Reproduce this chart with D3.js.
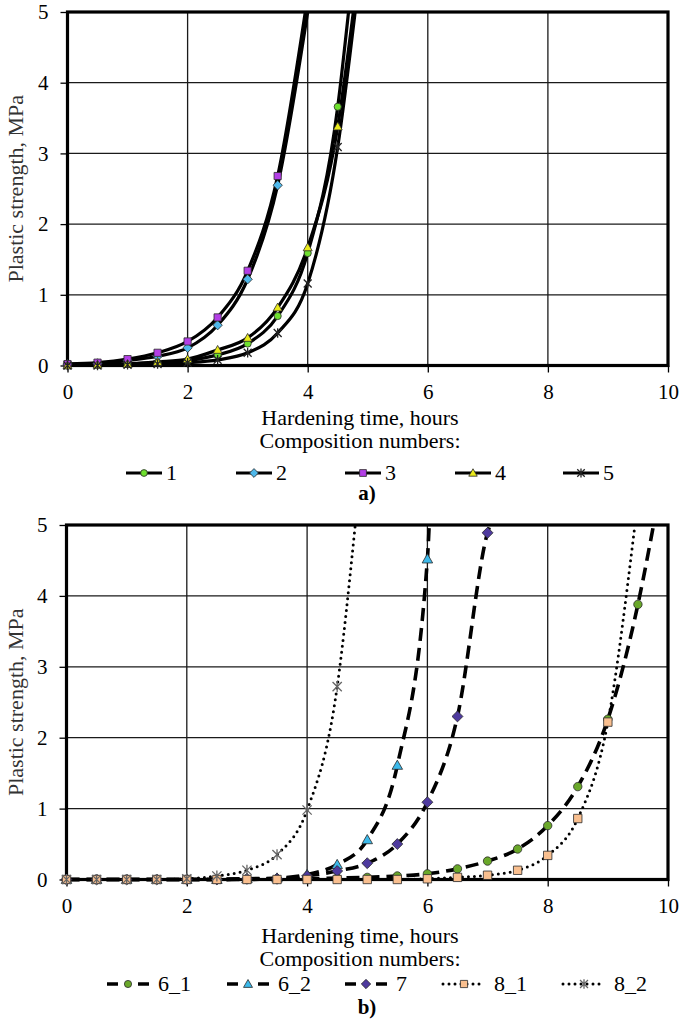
<!DOCTYPE html>
<html>
<head>
<meta charset="utf-8">
<script src="https://cdn.jsdelivr.net/npm/d3@7"></script>
<style>
  body { margin: 0; background: #fff; }
</style>
</head>
<body>
<svg id="fig" width="685" height="1021" font-family="Liberation Serif"></svg>
<script>
// ---- panel a) data ----
const hoursA = [0, 0.5, 1, 1.5, 2, 2.5, 3, 3.5, 4, 4.5];
const namesA = ["1", "2", "3", "4", "5"];
const strengthA1 = [0.00, 0.01, 0.02, 0.04, 0.07, 0.15, 0.31, 0.70, 1.59, 3.66];
const strengthA2 = [0.02, 0.03, 0.07, 0.13, 0.25, 0.57, 1.22, 2.55];
const strengthA3 = [0.02, 0.04, 0.09, 0.18, 0.34, 0.68, 1.34, 2.68];
const strengthA4 = [0.00, 0.01, 0.02, 0.05, 0.09, 0.22, 0.39, 0.82, 1.67, 3.38];
const strengthA5 = [0.00, 0.00, 0.01, 0.02, 0.04, 0.08, 0.18, 0.46, 1.16, 3.09];
// hour at which each curve leaves the top of the plot (5 MPa)
const exitA = [4.68, 4.0, 3.96, 4.76, 4.79];

// ---- panel b) data ----
const hoursB = [0, 0.5, 1, 1.5, 2, 2.5, 3, 3.5, 4, 4.5, 5, 5.5, 6, 6.5, 7, 7.5, 8, 8.5, 9, 9.5];
const namesB = ["6_1", "6_2", "7", "8_1", "8_2"];
const strengthB61 = [0, 0, 0, 0, 0, 0, 0, 0.01, 0.01, 0.02, 0.03, 0.05, 0.08, 0.15, 0.26, 0.43, 0.76, 1.31, 2.26, 3.88];
const strengthB62 = [0, 0, 0, 0, 0, 0, 0.01, 0.02, 0.07, 0.21, 0.56, 1.61, 4.52];
const strengthB7  = [0, 0, 0, 0, 0, 0, 0.01, 0.01, 0.05, 0.12, 0.23, 0.50, 1.09, 2.30, 4.89];
const strengthB81 = [0, 0, 0, 0, 0, 0, 0, 0, 0, 0, 0, 0, 0.01, 0.03, 0.06, 0.13, 0.34, 0.86, 2.22];
const strengthB82 = [0, 0, 0, 0, 0.01, 0.05, 0.13, 0.35, 0.98, 2.72];
const exitB = [9.76, 6.03, 7.04, 9.45, 4.80];

const xTicks = [0, 2, 4, 6, 8, 10];
const yTicks = [0, 1, 2, 3, 4, 5];

const serif = '"Liberation Serif"';
const svg = d3.select("#fig");

function markerPath(shape, r) {
  switch (shape) {
    case "circle":
      return `M${r},0A${r},${r} 0 1 1 ${-r},0A${r},${r} 0 1 1 ${r},0Z`;
    case "square":
      return `M${-r},${-r}H${r}V${r}H${-r}Z`;
    case "diamond": {
      const d = r * 1.3;
      return `M0,${-d}L${d},0L0,${d}L${-d},0Z`;
    }
    case "triangle": {
      const d = r * 1.25;
      return `M0,${-d}L${d},${d * 0.75}L${-d},${d * 0.75}Z`;
    }
    case "star": {
      const d = r * 1.1;
      return `M${-d},${-d}L${d},${d}M${-d},${d}L${d},${-d}M0,${-d * 1.2}L0,${d * 1.2}`;
    }
  }
}

function drawMarker(g, s, r) {
  const p = g.append("path").attr("d", markerPath(s.shape, r));
  if (s.shape === "star") {
    p.attr("fill", "none").attr("stroke", s.fill).attr("stroke-width", 1.3);
  } else {
    p.attr("fill", s.fill).attr("stroke", "#2a2a2a").attr("stroke-width", 0.8);
  }
  return p;
}

function addText(g, x, y, str, size) {
  return g.append("text")
    .attr("x", x).attr("y", y)
    .style("font-family", serif)
    .style("font-size", size + "px")
    .attr("fill", "#000")
    .text(str);
}

function drawPanel(cfg) {
  const x = d3.scaleLinear().domain([0, 10]).range([cfg.left, cfg.right]);
  const y = d3.scaleLinear().domain([0, 5]).range([cfg.bottom, cfg.top]);
  const g = svg.append("g");

  // grid
  g.append("g")
    .selectAll("line")
    .data(xTicks.slice(1, -1))
    .join("line")
    .attr("x1", d => x(d)).attr("x2", d => x(d))
    .attr("y1", cfg.top).attr("y2", cfg.bottom)
    .attr("stroke", "#1a1a1a").attr("stroke-width", 1.3);
  g.append("g")
    .selectAll("line")
    .data(yTicks.slice(1, -1))
    .join("line")
    .attr("x1", cfg.left).attr("x2", cfg.right)
    .attr("y1", d => y(d)).attr("y2", d => y(d))
    .attr("stroke", "#1a1a1a").attr("stroke-width", 1.3);

  // axes
  const fmt = d3.format("d");
  const xAxis = g.append("g")
    .attr("transform", `translate(0,${cfg.bottom})`)
    .call(d3.axisBottom(x).tickValues(xTicks).tickFormat(fmt).tickSize(7).tickPadding(12));
  const yAxis = g.append("g")
    .attr("transform", `translate(${cfg.left},0)`)
    .call(d3.axisLeft(y).tickValues(yTicks).tickFormat(fmt).tickSize(7).tickPadding(12));
  [xAxis, yAxis].forEach(a => {
    a.attr("font-family", null).attr("font-size", null);
    a.select(".domain").remove();
    a.selectAll(".tick line").attr("stroke", "#000").attr("stroke-width", 1.3);
    a.selectAll(".tick text")
      .style("font-family", serif)
      .style("font-size", "21px")
      .attr("fill", "#000");
  });

  // frame
  g.append("rect")
    .attr("x", cfg.left).attr("y", cfg.top)
    .attr("width", cfg.right - cfg.left).attr("height", cfg.bottom - cfg.top)
    .attr("fill", "none").attr("stroke", "#000").attr("stroke-width", 3.2);

  // clip
  const clipId = "clip" + cfg.id;
  svg.append("clipPath").attr("id", clipId)
    .append("rect")
    .attr("x", cfg.left).attr("y", cfg.top)
    .attr("width", cfg.right - cfg.left).attr("height", cfg.bottom - cfg.top + 3);

  const line = d3.line()
    .x(d => x(d[0]))
    .y(d => y(d[1]))
    .curve(d3.curveMonotoneX);

  const lines = g.append("g").attr("clip-path", `url(#${clipId})`);
  cfg.series.forEach(s => {
    const pts = s.values.map((v, i) => [cfg.hours[i], v]);
    pts.push([s.exit, 5]);
    lines.append("path")
      .attr("d", line(pts))
      .attr("fill", "none")
      .attr("stroke", "#000")
      .attr("stroke-width", s.width)
      .attr("stroke-linecap", s.cap)
      .attr("stroke-dasharray", s.dash);
  });

  const marks = g.append("g");
  cfg.series.forEach(s => {
    s.values.forEach((v, i) => {
      const m = marks.append("g").attr("transform", `translate(${x(cfg.hours[i])},${y(v)})`);
      drawMarker(m, s, cfg.markerR);
    });
  });

  // y title
  addText(g, 0, 0, "Plastic strength, MPa", 22)
    .attr("transform", `translate(${cfg.yTitleX},${(cfg.top + cfg.bottom) / 2}) rotate(-90)`)
    .attr("text-anchor", "middle")
    .attr("dy", "0.35em")
    .attr("fill", "#333");

  const cx = cfg.textCenter;
  addText(g, cx, cfg.titleY, "Hardening time, hours", 22).attr("text-anchor", "middle");
  addText(g, cx, cfg.subtitleY, "Composition numbers:", 22).attr("text-anchor", "middle");

  // legend
  cfg.series.forEach((s, i) => {
    const lg = g.append("g").attr("transform", `translate(${cfg.legendX[i]},${cfg.legendY})`);
    lg.append("line")
      .attr("x1", 0).attr("x2", cfg.legendLen)
      .attr("stroke", "#000")
      .attr("stroke-width", s.width)
      .attr("stroke-linecap", s.cap)
      .attr("stroke-dasharray", s.legendDash);
    const m = lg.append("g").attr("transform", `translate(${cfg.legendLen / 2},0)`);
    drawMarker(m, s, cfg.legendR);
    addText(lg, cfg.legendLen + cfg.labelGap, 0, s.name, 22).attr("dy", "0.33em");
  });

  addText(g, cx + 7, cfg.tagY, cfg.tag, 21)
    .attr("text-anchor", "middle")
    .style("font-weight", "bold");
}

const shapesA = ["circle", "diamond", "square", "triangle", "star"];
const fillsA = ["#6ee02e", "#4fb8ea", "#b33fe6", "#eaea1c", "#222"];
const valuesA = [strengthA1, strengthA2, strengthA3, strengthA4, strengthA5];

const shapesB = ["circle", "triangle", "diamond", "square", "star"];
const fillsB = ["#6aa82a", "#3cb9ea", "#4e3a9e", "#f9bf8f", "#666"];
const valuesB = [strengthB61, strengthB62, strengthB7, strengthB81, strengthB82];

drawPanel({
  id: "a", left: 67.5, right: 668, top: 12, bottom: 365.5,
  hours: hoursA, markerR: 3.6, legendR: 3.4,
  yTitleX: 15, textCenter: 360, titleY: 425, subtitleY: 448,
  legendY: 473, legendX: [126, 236, 345, 455, 563], legendLen: 36, labelGap: 4,
  tagY: 500, tag: "a)",
  series: namesA.map((n, i) => ({
    name: n, shape: shapesA[i], fill: fillsA[i], values: valuesA[i], exit: exitA[i],
    width: 3.2, cap: "butt", dash: null, legendDash: null
  }))
});

drawPanel({
  id: "b", left: 66.5, right: 668, top: 525, bottom: 879.5,
  hours: hoursB, markerR: 4.2, legendR: 3.6,
  yTitleX: 15, textCenter: 360, titleY: 943, subtitleY: 966,
  legendY: 984, legendX: [107, 227, 345, 443, 563], legendLen: 42, labelGap: 9,
  tagY: 1014, tag: "b)",
  series: namesB.map((n, i) => {
    const dotted = i >= 3;
    return {
      name: n, shape: shapesB[i], fill: fillsB[i], values: valuesB[i], exit: exitB[i],
      width: dotted ? 3 : 3.6,
      cap: dotted ? "round" : "butt",
      dash: dotted ? "0,6" : "13,7",
      legendDash: dotted ? "0,6" : "11,20"
    };
  })
});
</script>
</body>
</html>
